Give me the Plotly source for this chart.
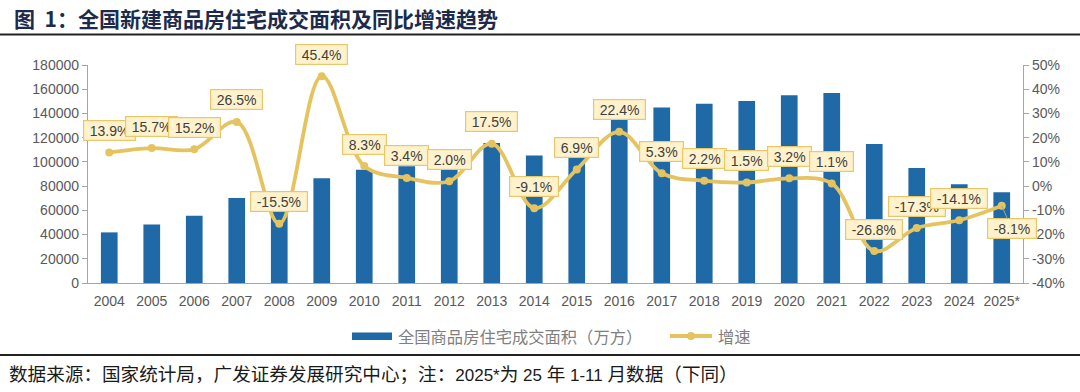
import plotly.graph_objects as go

# ---------------- data ----------------
years = ["2004", "2005", "2006", "2007", "2008", "2009", "2010", "2011", "2012", "2013", "2014",
         "2015", "2016", "2017", "2018", "2019", "2020", "2021", "2022", "2023", "2024", "2025*"]
area = [41800, 48400, 55600, 70200, 59300, 86400, 93600, 96300, 98200, 115600, 105200,
        112400, 137600, 144900, 148100, 150300, 155000, 156900, 114800, 95000, 81500, 74900]
growth = [13.9, 15.7, 15.2, 26.5, -15.5, 45.4, 8.3, 3.4, 2.0, 17.5, -9.1,
          6.9, 22.4, 5.3, 2.2, 1.5, 3.2, 1.1, -26.8, -17.3, -14.1, -8.1]
left_ticks = [0, 20000, 40000, 60000, 80000, 100000, 120000, 140000, 160000, 180000]
right_ticks = [-40, -30, -20, -10, 0, 10, 20, 30, 40, 50]

bar_name = "全国商品房住宅成交面积（万方）"
line_name = "增速"
title_text = "图  1：全国新建商品房住宅成交面积及同比增速趋势"
footer_parts = ["数据来源：国家统计局，广发证券发展研究中心；注：", "2025*", "为", " 25 ", "年",
                " 1-11 ", "月数据（下同）"]

# ---------------- style ----------------
W, H = 1080, 392
L, R, T, B = 88, 1023, 65, 283
BLUE = "#1F69A6"
GOLD = "#E5C45F"
LABEL_FILL = "#FFF2CC"
LABEL_BORDER = "#E8C86A"
AXIS = "#A6A6A6"
TICK = "#595959"
FONT = "Liberation Sans, Arial, Noto Sans CJK SC, sans-serif"
CJK = "Noto Sans CJK SC, Liberation Sans, sans-serif"


def px_x(p):
    return (p - L) / (R - L)


def px_y(p):
    return (B - p) / (B - T)


def text_w(s, size=14):
    w = {".": 0.278, "%": 0.889, "-": 0.333}
    return sum(w.get(c, 0.556) for c in s) * size


fig = go.Figure()
fig.add_trace(go.Bar(x=years, y=area, name=bar_name, marker=dict(color=BLUE, line=dict(width=0)),
                     yaxis="y"))
fig.add_trace(go.Scatter(x=years, y=growth, name=line_name, mode="lines+markers", yaxis="y2",
                         line=dict(color=GOLD, width=3.8, shape="spline", smoothing=1),
                         marker=dict(size=8, color=GOLD)))

annotations = []
for i, g in enumerate(growth):
    txt = f"{g:.1f}%"
    base = dict(x=i, y=g, xref="x", yref="y2", text=txt,
                font=dict(family=FONT, size=14, color="#404040"),
                bgcolor=LABEL_FILL, bordercolor=LABEL_BORDER, borderwidth=1.2, borderpad=1,
                width=text_w(txt) + 9, height=17)
    if i == len(growth) - 1:
        base.update(showarrow=True, arrowhead=0, arrowwidth=1, arrowcolor="#A6A6A6",
                    ax=10, ay=23, standoff=0)
    else:
        base.update(showarrow=False, yshift=22)
    annotations.append(base)

# footer: CJK at larger advance, latin parts smaller
footer_html = ""
for k, part in enumerate(footer_parts):
    if k in (1, 3, 5):
        footer_html += f'<span style="font-size:17px">{part}</span>'
    else:
        footer_html += part

annotations.append(dict(xref="paper", yref="paper", x=px_x(12), y=px_y(18), xanchor="left",
                        yanchor="middle", showarrow=False, text=f"<b>{title_text}</b>",
                        font=dict(family=CJK, size=21, color="#1C2B4B")))
annotations.append(dict(xref="paper", yref="paper", x=px_x(7), y=px_y(374), xanchor="left",
                        yanchor="middle", showarrow=False, text=footer_html,
                        font=dict(family=FONT, size=18.6, color="#1A1A1A")))
annotations.append(dict(xref="paper", yref="paper", x=px_x(396), y=px_y(336), xanchor="left",
                        yanchor="middle", showarrow=False, text=bar_name,
                        font=dict(family=CJK, size=16.3, color="#7F7F7F")))
annotations.append(dict(xref="paper", yref="paper", x=px_x(716), y=px_y(336), xanchor="left",
                        yanchor="middle", showarrow=False, text=line_name,
                        font=dict(family=CJK, size=16.3, color="#7F7F7F")))

shapes = [
    dict(type="line", xref="paper", yref="paper", x0=px_x(0), x1=px_x(W), y0=px_y(34.5),
         y1=px_y(34.5), line=dict(color="#222222", width=2)),
    dict(type="line", xref="paper", yref="paper", x0=px_x(0), x1=px_x(W), y0=px_y(355),
         y1=px_y(355), line=dict(color="#222222", width=2)),
    dict(type="rect", xref="paper", yref="paper", x0=px_x(352), x1=px_x(392), y0=px_y(332.5),
         y1=px_y(340), fillcolor=BLUE, line=dict(width=0)),
    dict(type="line", xref="paper", yref="paper", x0=px_x(670), x1=px_x(712), y0=px_y(336),
         y1=px_y(336), line=dict(color=GOLD, width=4)),
    dict(type="circle", xref="paper", yref="paper", x0=px_x(687), x1=px_x(695), y0=px_y(332),
         y1=px_y(340), fillcolor=GOLD, line=dict(width=0)),
]

fig.update_layout(
    width=W, height=H,
    margin=dict(l=L, r=W - R, t=T, b=H - B, pad=0),
    plot_bgcolor="white", paper_bgcolor="white",
    showlegend=False, bargap=0.607,
    font=dict(family=FONT, size=14, color=TICK),
    xaxis=dict(type="category", range=[-0.5, len(years) - 0.5], autorange=False,
               showline=True, linecolor=AXIS, linewidth=1.3, showgrid=False,
               ticks="outside", ticklen=5, tickcolor="rgba(0,0,0,0)",
               tickfont=dict(family=FONT, size=14, color=TICK)),
    yaxis=dict(range=[0, 180000], tickvals=left_ticks, ticktext=[str(v) for v in left_ticks],
               showline=True, linecolor=AXIS, linewidth=1.3, ticks="outside", ticklen=5,
               tickcolor=AXIS, showgrid=False, zeroline=False,
               tickfont=dict(family=FONT, size=14, color=TICK)),
    yaxis2=dict(range=[-40, 50], overlaying="y", side="right", tickvals=right_ticks,
                ticktext=[f"{v}%" for v in right_ticks], showline=True, linecolor=AXIS,
                linewidth=1.3, ticks="outside", ticklen=5, tickcolor=AXIS, showgrid=False,
                zeroline=False, tickfont=dict(family=FONT, size=14, color=TICK)),
    annotations=annotations,
    shapes=shapes,
)

fig.write_html("out.html", config={"displayModeBar": False},
               post_script="document.body.style.margin='0';")
